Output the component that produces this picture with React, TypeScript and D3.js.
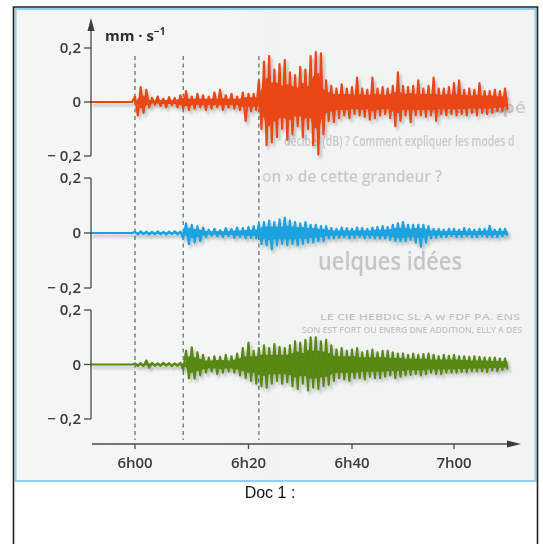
import React from "react";
import * as d3 from "d3";

// ---- data (minutes after 6h00, velocity in mm·s⁻¹) ----
const timeTicks = [0, 20, 40, 60];
const timeLabels = ["6h00", "6h20", "6h40", "7h00"];
const markerTimes = [0, 8.5, 22];
const yTicks = [-0.2, 0, 0.2];
const traceLeadIn = -7.9;
const sampleStep = 0.5;

const redValues = [
  0.02, -0.05, 0.055, -0.04, 0.045,
  -0.02, 0.015, -0.01, 0.02, -0.015, 0.012, -0.02, 0.018, -0.012, 0.015, -0.02, 0.025,
  -0.025, 0.04, -0.03, 0.02, -0.025, 0.03, -0.02, 0.025, -0.03, 0.02, -0.025, 0.035, -0.02, 0.045,
  -0.03, 0.025, -0.02, 0.03, -0.025, 0.02, -0.03, 0.035, -0.07, 0.03, -0.035, 0.03, -0.03,
  0.08, -0.1, 0.15, -0.16, 0.17, -0.15, 0.12, -0.13, 0.14, -0.1, 0.155, -0.14, 0.11, -0.12,
  0.1, -0.09, 0.13, -0.13, 0.12, -0.1, 0.17, -0.16, 0.185, -0.195, 0.18, -0.12, 0.08,
  -0.07, 0.06, -0.075, 0.05, -0.06, 0.065, -0.05, 0.05, -0.06, 0.055, -0.045,
  0.09, -0.05, 0.05, -0.055, 0.045, -0.065, 0.09, -0.06, 0.05, -0.05, 0.055, -0.045, 0.05, -0.06,
  0.06, -0.09, 0.11, -0.07, 0.06, -0.05, 0.055, -0.075, 0.06, -0.05, 0.08, -0.05, 0.05, -0.055,
  0.06, -0.05, 0.09, -0.07, 0.05, -0.045, 0.05, -0.05, 0.055, -0.045, 0.07, -0.05, 0.08, -0.045,
  0.045, -0.05, 0.05, -0.04, 0.045, -0.05, 0.07, -0.04, 0.04, -0.045, 0.04, -0.04, 0.045, -0.035,
  0.04, -0.035, 0.05, -0.03,
];

const blueValues = [
  0.004, -0.005, 0.006, -0.004, 0.005, -0.006, 0.004, -0.005, 0.006, -0.005, 0.004, -0.006, 0.005,
  -0.004, 0.006, -0.005, 0.005,
  -0.02, 0.035, -0.04, 0.03, -0.035, 0.025, -0.03, 0.02,
  -0.015, 0.012, -0.01, 0.015, -0.012, 0.01, -0.015, 0.018, -0.012, 0.015, -0.018, 0.02, -0.015,
  0.018, -0.02, 0.022, -0.018, 0.025, -0.02,
  0.035, -0.04, 0.04, -0.045, 0.045, -0.06, 0.04, -0.045, 0.05, -0.04, 0.055, -0.045, 0.045, -0.04,
  0.04, -0.045, 0.035, -0.04, 0.04, -0.035, 0.03, -0.035, 0.03, -0.03, 0.025, -0.03, 0.025,
  -0.02, 0.018, -0.02, 0.015, -0.018, 0.02, -0.015, 0.018, -0.02, 0.015, -0.018, 0.02, -0.015,
  0.018, -0.02, 0.015, -0.018, 0.02, -0.02, 0.022, -0.02, 0.025, -0.02, 0.022,
  -0.025, 0.03, -0.03, 0.035, -0.03, 0.04, -0.03, 0.03, -0.025, 0.03, -0.035, 0.03, -0.05, 0.03,
  -0.035, 0.025,
  -0.02, 0.015, -0.018, 0.015, -0.015, 0.012, -0.015, 0.015, -0.012, 0.015, -0.015, 0.012, -0.015,
  0.018, -0.012, 0.015, -0.015, 0.012, -0.015, 0.015, -0.012, 0.015, -0.015, 0.026, -0.015, 0.012,
  -0.015, 0.015, -0.012, 0.015, -0.01,
];

const greenValues = [
  0.004, -0.005, 0.005, -0.006, 0.015, -0.012, 0.006, -0.005, 0.004, -0.005, 0.006, -0.004, 0.005,
  -0.006, 0.004, -0.005, 0.006,
  -0.02, 0.05, -0.05, 0.063, -0.052, 0.045, -0.04, 0.035,
  -0.03, 0.025, -0.025, 0.03, -0.035, 0.028, -0.03, 0.035, -0.025, 0.03, -0.03,
  0.04, -0.04, 0.06, -0.05, 0.08, -0.06, 0.05, -0.07,
  0.06, -0.08, 0.07, -0.085, 0.06, -0.07, 0.075, -0.06, 0.065, -0.07, 0.06, -0.065,
  0.07, -0.08, 0.085, -0.09, 0.08, -0.07, 0.09, -0.095, 0.1, -0.085, 0.1, -0.09, 0.085, -0.08,
  0.09, -0.075, 0.07,
  -0.06, 0.055, -0.05, 0.06, -0.055, 0.05, -0.06, 0.055, -0.05, 0.06, -0.05, 0.045, -0.055, 0.05,
  -0.045, 0.055, -0.05, 0.045, -0.05, 0.05, -0.045, 0.05, -0.04, 0.045, -0.05, 0.04, -0.045, 0.04,
  -0.04, 0.035, -0.038, 0.04, -0.035, 0.035, -0.04, 0.038, -0.035, 0.04, -0.03, 0.035, -0.035, 0.03,
  -0.035, 0.035, -0.03, 0.032, -0.03, 0.035, -0.03, 0.03, -0.028, 0.03, -0.03, 0.028, -0.025, 0.03,
  -0.025, 0.028, -0.025, 0.025, -0.028, 0.025, -0.022, 0.025, -0.025, 0.022, -0.02, 0.022, -0.018,
];

const traces = [
  { name: "station1", values: redValues, color: "#ea4716" },
  { name: "station2", values: blueValues, color: "#1ea3df" },
  { name: "station3", values: greenValues, color: "#588812" },
];

const unitLabel = "mm · s";
const captionText = "Doc 1 :";
const ghostLines = [
  "que l'expé",
  "décibel (dB) ? Comment expliquer les modes d",
  "on » de cette grandeur ?",
  "uelques idées",
  "LE CIE HEBDIC SL      A w FDF PA. ENS",
  "SON EST FORT OU ENERG   DNE ADDITION, ELLY A DES",
];

export default function App() {
  const W = 543, H = 544;
  const axisX = 91;
  const x = d3.scaleLinear().domain(timeTicks).range([135, 248.5, 352, 454]);
  const panels = [
    d3.scaleLinear().domain([-0.2, 0.2]).range([156, 48]),
    d3.scaleLinear().domain([-0.2, 0.2]).range([288, 178]),
    d3.scaleLinear().domain([-0.2, 0.2]).range([419, 310]),
  ];
  const axisY = 444;
  const fmt = (v: number) =>
    v === 0 ? "0" : (v < 0 ? "\u2212 " : "") + Math.abs(v).toString().replace(".", ",");

  const fontTick = "'Open Sans', 'Noto Sans', sans-serif";

  return (
    <svg width={W} height={H} style={{ position: "absolute", left: 0, top: 0 }}
      xmlns="http://www.w3.org/2000/svg">
      <defs>
        <filter id="shadow" x="-5%" y="-20%" width="110%" height="140%">
          <feDropShadow dx="2" dy="3" stdDeviation="1.6" floodColor="#000" floodOpacity="0.25" />
        </filter>
        <filter id="blur">
          <feGaussianBlur stdDeviation="0.6" />
        </filter>
        <clipPath id="photo">
          <rect x={15} y={8} width={521} height={473} />
        </clipPath>
        <linearGradient id="fade" x1="0" x2="1" y1="0" y2="0">
          <stop offset="0" stopColor="#f4f5f5" stopOpacity="1" />
          <stop offset="0.4" stopColor="#f4f5f5" stopOpacity="0.95" />
          <stop offset="0.5" stopColor="#f4f5f5" stopOpacity="0" />
        </linearGradient>
      </defs>
      <rect x={0} y={0} width={W} height={H} fill="#fff" />
      {/* photo background */}
      <rect x={15} y={8} width={521} height={473} fill="#f2f3f3" />
      <g clipPath="url(#photo)" fill="#c8cacb" fontFamily="'Open Sans', sans-serif" fontWeight={600}
        filter="url(#blur)">
        <text x={430} y={113} fontSize={16} textLength={96} lengthAdjust="spacingAndGlyphs">{ghostLines[0]}</text>
        <g transform="translate(284,146) scale(1,1.45)">
          <text x={0} y={0} fontSize={10.4}>{ghostLines[1]}</text>
        </g>
        <text x={262} y={182} fontSize={16} textLength={180} lengthAdjust="spacingAndGlyphs">{ghostLines[2]}</text>
        <text x={318} y={270} fontSize={25} textLength={144} lengthAdjust="spacingAndGlyphs" fill="#c4c6c7">{ghostLines[3]}</text>
        <text x={320} y={320} fontSize={9} textLength={200} lengthAdjust="spacingAndGlyphs" fill="#c2c4c5">{ghostLines[4]}</text>
        <text x={302} y={333} fontSize={9} textLength={220} lengthAdjust="spacingAndGlyphs" fill="#c2c4c5">{ghostLines[5]}</text>
      </g>
      <rect x={15} y={8} width={521} height={473} fill="url(#fade)" />
      {/* photo frame */}
      <rect x={15.5} y={9} width={520} height={472} fill="none" stroke="#8fd0ea" strokeWidth={2} />
      {/* dashed markers */}
      {markerTimes.map((t, i) => (
        <line key={i} x1={x(t)} x2={x(t)} y1={56} y2={440} stroke="#6f6f6f"
          strokeWidth={1.3} strokeDasharray="4 3.5" />
      ))}
      {/* traces */}
      {traces.map((tr, k) => {
        const y = panels[k];
        const pts: [number, number][] = [[traceLeadIn, 0], [-0.5, 0]];
        tr.values.forEach((v, i) => pts.push([i * sampleStep, v]));
        const core = (i: number) => {
          if (i < 2) return 0;
          const a = Math.abs(pts[i - 1][1]), b = Math.abs(pts[i][1]);
          const c = i + 1 < pts.length ? Math.abs(pts[i + 1][1]) : b;
          return 0.6 * Math.min(a, b, c);
        };
        const area = d3.area<[number, number]>()
          .x(d => x(d[0]))
          .y0((d, i) => y(-core(i)))
          .y1((d, i) => y(core(i)))
          .curve(d3.curveMonotoneX);
        const line = d3.line<[number, number]>().x(d => x(d[0])).y(d => y(d[1]));
        return (
          <g key={tr.name} filter="url(#shadow)">
            <path d={area(pts) || ""} fill={tr.color} />
            <path d={line(pts) || ""} fill="none" stroke={tr.color}
              strokeWidth={2.2} strokeLinejoin="round" />
          </g>
        );
      })}
      {/* y axes */}
      <g stroke="#4a4a4a" strokeWidth={1.3} fill="none">
        {panels.map((y, k) => (
          <line key={k} x1={axisX} x2={axisX} y1={k === 0 ? 24 : y(0.2)} y2={y(-0.2)} />
        ))}
        {panels.map((y, k) =>
          yTicks.map(v => (
            <line key={k + "_" + v} x1={axisX - 7} x2={axisX} y1={y(v)} y2={y(v)} />
          ))
        )}
      </g>
      <path d={`M${axisX - 3.5},31 L${axisX},18 L${axisX + 3.5},31 Z`} fill="#3a3a3a" />
      <g fontFamily={fontTick} fontSize={15} fill="#3c3c3c" textAnchor="end" fontWeight={600}>
        {panels.map((y, k) =>
          yTicks.map(v => (
            <text key={k + "_" + v} x={axisX - 10} y={y(v)} dy="0.36em">{fmt(v)}</text>
          ))
        )}
      </g>
      <text x={105} y={41} fontFamily={fontTick} fontSize={15} fontWeight={700} fill="#2e2e2e">
        {unitLabel}
        <tspan dy={-6} fontSize={10}>{"\u22121"}</tspan>
      </text>
      {/* x axis */}
      <line x1={axisX + 1} x2={512} y1={axisY} y2={axisY} stroke="#4a4a4a" strokeWidth={1.4} />
      <path d={`M521,${axisY} L507,${axisY - 3.5} L507,${axisY + 3.5} Z`} fill="#3a3a3a" />
      {timeTicks.map((t, i) => (
        <g key={t} transform={`translate(${x(t)},0)`}>
          <line y1={axisY} y2={axisY + 5} stroke="#4a4a4a" strokeWidth={1.3} />
          <text y={axisY + 24} textAnchor="middle" fontFamily={fontTick} fontSize={15}
            fontWeight={600} fill="#3c3c3c">{timeLabels[i]}</text>
        </g>
      ))}
      {/* caption area */}
      <text x={270} y={498} textAnchor="middle" fontFamily="'Liberation Sans', Arial, sans-serif"
        fontSize={16} fill="#111">{captionText}</text>
      {/* outer frame */}
      <path d="M13.5,560 L13.5,7 L537.5,7 L537.5,560" fill="none" stroke="#222" strokeWidth={1.6} />
    </svg>
  );
}
